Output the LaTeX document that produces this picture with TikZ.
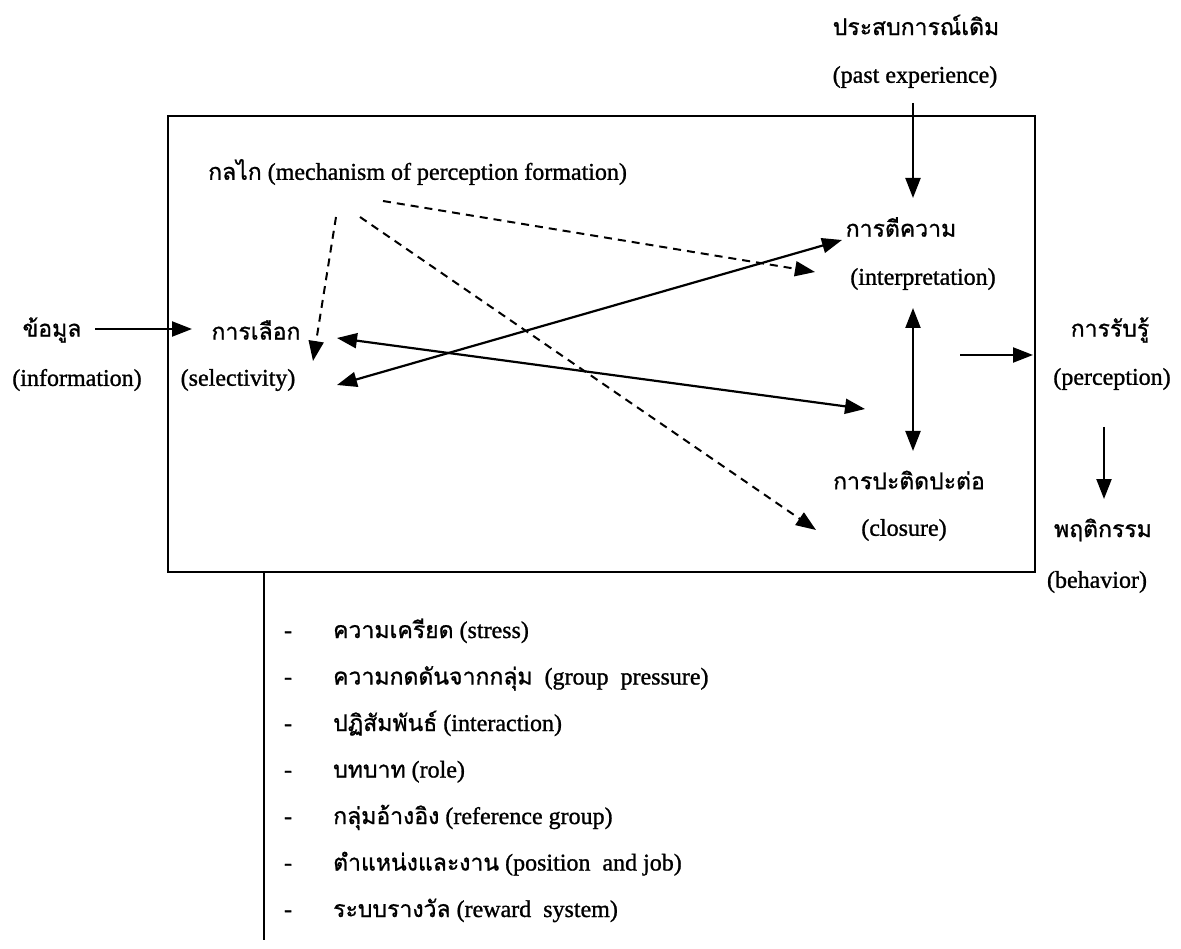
\documentclass[tikz,border=0pt]{standalone}
\usepackage{fontspec}
\setmainfont{Liberation Serif}[FakeBold=1.1]
\newfontfamily\thaifont[Script=Thai,FakeBold=1.0]{Loma}
\usetikzlibrary{arrows.meta}
\newcommand{\tht}[1]{{\thaifont\fontsize{23}{28}\selectfont #1}}
\begin{document}
\begin{tikzpicture}[x=1pt,y=-1pt,
  lbl/.style={font=\fontsize{24}{28}\selectfont, inner sep=0pt},
  arr/.style={line width=2.2pt, -{Triangle[length=20pt,width=15pt]}},
  darr/.style={line width=2pt, dash pattern=on 8pt off 6pt, -{Triangle[length=20pt,width=15pt]}},
  dbl/.style={line width=2.2pt, {Triangle[length=20pt,width=15pt]}-{Triangle[length=20pt,width=15pt]}},
  frame/.style={draw, line width=2.2pt, inner sep=0pt}]
\useasboundingbox (0,0) rectangle (1181,949);
\fill[white] (0,0) rectangle (1181,949);

% main box
\node[frame, anchor=north west, minimum width=867pt, minimum height=456pt] (box) at (167,115) {};

% labels
\node[lbl] (past) at (916,25) {\tht{ประสบการณ์เดิม}};
\node[lbl] (pastE) at (915,77) {(past experience)};
\node[lbl, anchor=west] (mech) at (208,172) {\tht{กลไก} (mechanism of perception formation)};
\node[lbl] (interp) at (901,227) {\tht{การตีความ}};
\node[lbl] (interpE) at (923,279) {(interpretation)};
\node[lbl] (info) at (52,330) {\tht{ข้อมูล}};
\node[lbl] (infoE) at (77,380) {(information)};
\node[lbl] (sel) at (256,330) {\tht{การเลือก}};
\node[lbl] (selE) at (238,380) {(selectivity)};
\node[lbl] (perc) at (1110,330) {\tht{การรับรู้}};
\node[lbl] (percE) at (1112,379) {(perception)};
\node[lbl] (beh) at (1103,530) {\tht{พฤติกรรม}};
\node[lbl] (behE) at (1097,582) {(behavior)};
\node[lbl] (clos) at (909,480) {\tht{การปะติดปะต่อ}};
\node[lbl] (closE) at (904,530) {(closure)};

% arrow end points
\coordinate (pastS) at (913,103);
\coordinate (pastT) at (913,198);
\coordinate (infoS) at (95,329);
\coordinate (infoT) at (192,329);
\coordinate (m1S) at (336,217);
\coordinate (m1T) at (313,361);
\coordinate (m2S) at (383,201);
\coordinate (m2T) at (815,272);
\coordinate (m3S) at (360,217);
\coordinate (m3T) at (816,530);
\coordinate (selA) at (337,338);
\coordinate (closA) at (865,409);
\coordinate (selB) at (337,385);
\coordinate (intB) at (842,240);
\coordinate (icT) at (913,308);
\coordinate (icB) at (913,451);
\coordinate (percS) at (960,355);
\coordinate (percT) at (1033,355);
\coordinate (behS) at (1104,427);
\coordinate (behT) at (1104,499);
\coordinate (vTop) at (264,571);
\coordinate (vBot) at (264,940);

% connectors
\draw[arr] (pastS) -- (pastT);
\draw[arr] (infoS) -- (infoT);
\draw[darr] (m1S) -- (m1T);
\draw[darr] (m2S) -- (m2T);
\draw[darr] (m3S) -- (m3T);
\draw[dbl] (selA) -- (closA);
\draw[dbl] (selB) -- (intB);
\draw[dbl] (icT) -- (icB);
\draw[arr] (percS) -- (percT);
\draw[arr] (behS) -- (behT);
\draw[line width=2pt] (vTop) -- (vBot);

% factor list
\foreach \i/\t in {0/{\tht{ความเครียด} (stress)},
                   1/{\tht{ความกดดันจากกลุ่ม}\ \ (group\ \ pressure)},
                   2/{\tht{ปฏิสัมพันธ์} (interaction)},
                   3/{\tht{บทบาท} (role)},
                   4/{\tht{กลุ่มอ้างอิง} (reference group)},
                   5/{\tht{ตำแหน่งและงาน} (position\ \ and job)},
                   6/{\tht{ระบบรางวัล} (reward\ \ system)}}{
  \node[lbl, anchor=base] (d\i) at (288,638+46.5*\i) {-};
  \node[lbl, anchor=base west] (f\i) at (333,638+46.5*\i) {\t};
}
\end{tikzpicture}
\end{document}
